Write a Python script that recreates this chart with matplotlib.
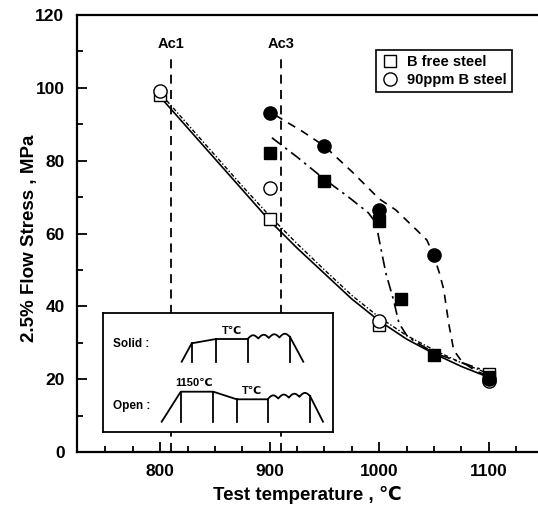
import numpy as np
import matplotlib
matplotlib.use("Agg")
import matplotlib.pyplot as plt
from matplotlib.lines import Line2D

plt.rcParams['font.family'] = ['Liberation Sans', 'DejaVu Sans']
plt.rcParams['font.weight'] = 'bold'

# ---------------- data ----------------
temps = [800, 900, 1000, 1100]
bfree_solid = [98, 64, 35, 21.5]          # open squares
b90_solid = [99, 72.5, 36, 19.5]          # open circles

bfree_open_T = [900, 950, 1000, 1020, 1050, 1100]
bfree_open = [82, 74.5, 63.5, 42, 26.5, 20.5]   # filled squares
b90_open_T = [900, 950, 1000, 1050, 1100]
b90_open = [93, 84, 66.5, 54, 20]               # filled circles

# fitted curves
solid_T = [800, 825, 850, 875, 900, 925, 950, 975, 1000, 1025, 1050, 1075, 1100]
solid_S = [97.5, 89, 80.5, 72, 63.5, 56, 49, 42, 36, 31, 27, 23.5, 20.5]
dot_T = [800, 825, 850, 875, 900, 925, 950, 975, 1000, 1025, 1050, 1075, 1100]
dot_S = [98.5, 90, 81.5, 73, 64.8, 57.2, 50, 43, 37, 32, 28, 24.5, 21.5]
dash_T = [905, 930, 950, 975, 1000, 1015, 1034, 1043.5, 1049.6, 1055, 1059, 1063.4, 1068, 1075.5, 1088, 1100]
dash_S = [92.5, 88, 84, 77, 69.5, 66.5, 61, 58.2, 54.1, 49.1, 44.5, 35.4, 28, 24.8, 22.3, 20.8]
dd_T = [902, 925, 950, 972, 990, 997, 1000, 1006, 1013, 1018, 1026, 1038, 1050, 1074, 1095, 1100]
dd_S = [86.3, 81, 74.9, 70, 65.7, 62.9, 58.2, 49.2, 41.8, 35.4, 31.6, 29.4, 27.2, 24.7, 22.5, 21.5]

ac_T = [810, 910]
ac_labels = ['Ac1', 'Ac3']

# ---------------- figure ----------------
W, H = 538, 513
fig = plt.figure(figsize=(W / 100, H / 100), dpi=100)
ax = fig.add_axes([77 / W, 1 - 452 / H, (W - 77) / W, 437 / H])
ax.set_xlim(724, 1145)
ax.set_ylim(0, 120)

for s in ['left', 'top', 'bottom']:
    ax.spines[s].set_linewidth(1.6)
ax.spines['right'].set_visible(False)

ax.set_xticks([800, 900, 1000, 1100])
ax.set_xticks(np.arange(750, 1150, 25), minor=True)
ax.set_yticks(np.arange(0, 121, 20))
ax.set_yticks(np.arange(0, 121, 10), minor=True)
ax.tick_params(which='both', direction='in', width=1.3, labelsize=12.5)
ax.tick_params(which='major', length=7)
ax.tick_params(which='minor', length=4)
ax.tick_params(axis='y', which='major', pad=9)
ax.tick_params(axis='x', which='major', pad=9)
for lab in ax.get_xticklabels() + ax.get_yticklabels():
    lab.set_fontweight('bold')

ax.set_xlabel('Test temperature , ℃', fontsize=13.5, fontweight='bold')
ax.set_ylabel('2.5% Flow Stress , MPa', fontsize=13.5, fontweight='bold')
ax.xaxis.set_label_coords(0.5, -0.078)
ax.yaxis.set_label_coords(-0.085, 0.49)

# Ac lines
for t, lab in zip(ac_T, ac_labels):
    ax.plot([t, t], [0, 109.5], color='black', lw=1.3, dashes=(5, 3.5))
    ax.text(t, 110.2, lab, ha='center', va='bottom', fontsize=10.5, fontweight='bold')

# curves
ax.plot(solid_T, solid_S, color='black', lw=1.2)
ax.plot(dot_T, dot_S, color='black', lw=1.0, dashes=(3, 1.5, 1, 1.5))
ax.plot(dash_T, dash_S, color='black', lw=1.2, dashes=(5, 4))
ax.plot(dd_T, dd_S, color='black', lw=1.2, dashes=(7, 3, 1.5, 3))

# markers
ax.plot(temps, bfree_solid, 's', ms=9, mfc='white', mec='black', mew=1.0, zorder=5)
ax.plot(temps, b90_solid, 'o', ms=9.5, mfc='white', mec='black', mew=1.0, zorder=5)
ax.plot(bfree_open_T, bfree_open, 's', ms=9, mfc='black', mec='black', zorder=6)
ax.plot(b90_open_T, b90_open, 'o', ms=9.5, mfc='black', mec='black', zorder=6)

# legend
handles = [Line2D([], [], ls='none', marker='s', ms=9, mfc='white', mec='black', mew=1.0),
           Line2D([], [], ls='none', marker='o', ms=9.5, mfc='white', mec='black', mew=1.0)]
leg = ax.legend(handles, ['B free steel', '90ppm B steel'], loc='upper right',
                bbox_to_anchor=((512 - 77) / (W - 77), (452 - 50) / 437),
                frameon=True, fancybox=False, edgecolor='black', framealpha=1,
                prop={'weight': 'bold', 'size': 10.5}, handletextpad=0.6,
                borderpad=0.35, labelspacing=0.25, handlelength=1.2, borderaxespad=0)
leg.get_frame().set_linewidth(1.2)

# ---------------- inset schematic (pixel coords) ----------------
ins = fig.add_axes([103 / W, 1 - 432 / H, 230 / W, 119 / H])
ins.set_xlim(103, 333)
ins.set_ylim(432, 313)
ins.set_xticks([])
ins.set_yticks([])
for s in ins.spines.values():
    s.set_linewidth(1.3)
ins.set_facecolor('white')
ins.set_zorder(10)

kw = dict(color='black', lw=1.3)

def wave(x0, x1, y0, y1, n):
    xs = np.linspace(x0, x1, n * 20 + 1)
    base = y0 + (y1 - y0) * (xs - x0) / (x1 - x0)
    return xs, base - 3.5 * np.abs(np.sin(np.pi * n * (xs - x0) / (x1 - x0)))

# Solid row
ins.text(113, 344, 'Solid :', fontsize=8.5, fontweight='bold', va='center', ha='left')
ins.plot([181.7, 191.7, 216, 247.7], [361.7, 343.3, 339, 339], **kw)
wx, wy = wave(247.7, 290, 339, 337, 4)
ins.plot(wx, wy, **kw)
ins.plot([290, 303.3], [337, 361.7], **kw)
for x, y in [(191.7, 343.3), (216, 339), (247.7, 339), (290, 337)]:
    ins.plot([x, x], [y, 361.7], **kw)
ins.text(232, 336, 'T℃', fontsize=8, fontweight='bold', ha='center', va='bottom')

# Open row
ins.text(113, 406, 'Open :', fontsize=8.5, fontweight='bold', va='center', ha='left')
ins.plot([161.7, 180.7, 213.3, 236.7, 267.7], [421.7, 391.7, 391.7, 399.3, 399.3], **kw)
wx, wy = wave(267.7, 310, 399.3, 396, 4)
ins.plot(wx, wy, **kw)
ins.plot([310, 323], [396, 421.7], **kw)
for x, y in [(180.7, 391.7), (213.3, 391.7), (236.7, 399.3), (267.7, 399.3), (310, 396)]:
    ins.plot([x, x], [y, 421.7], **kw)
ins.text(194, 388, '1150℃', fontsize=8, fontweight='bold', ha='center', va='bottom')
ins.text(252, 395.5, 'T℃', fontsize=8, fontweight='bold', ha='center', va='bottom')

fig.savefig('out.png', dpi=100)
